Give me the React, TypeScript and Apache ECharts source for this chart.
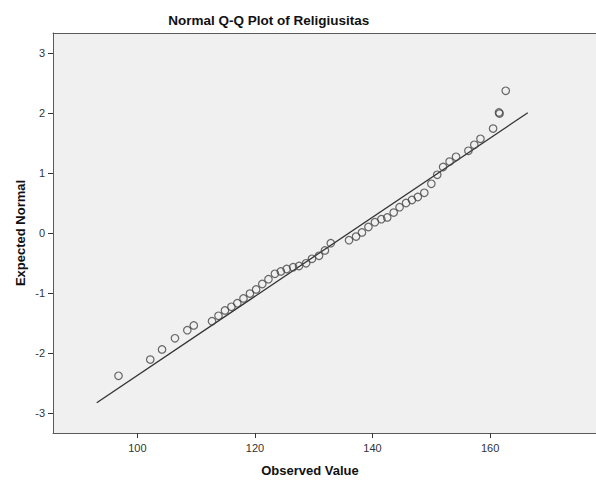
import React, { useEffect, useRef } from "react";
import * as echarts from "echarts";

const titleText = "Normal Q-Q Plot of Religiusitas";
const xAxisTitle = "Observed Value";
const yAxisTitle = "Expected Normal";

const xTicks = [100, 120, 140, 160];
const yTicks = [-3, -2, -1, 0, 1, 2, 3];

const observed = [
  96.8, 102.2, 104.2, 106.4, 108.5, 109.6, 112.7, 113.8, 114.9, 116.0,
  117.0, 118.05, 119.15, 120.2, 121.25, 122.3, 123.4, 124.4, 125.4, 126.5,
  127.5, 128.7, 129.7, 130.9, 131.9, 132.9, 136.0, 137.2, 138.2, 139.3,
  140.4, 141.5, 142.5, 143.6, 144.6, 145.7, 146.7, 147.7, 148.8, 150.0,
  151.0, 152.0, 153.1, 154.2, 156.3, 157.3, 158.35, 160.5, 161.5, 161.6,
  162.65,
];
const expected = [
  -2.38, -2.11, -1.94, -1.755, -1.62, -1.54, -1.47, -1.38, -1.29, -1.23,
  -1.17, -1.09, -1.01, -0.94, -0.85, -0.77, -0.68, -0.64, -0.6, -0.57,
  -0.55, -0.505, -0.43, -0.38, -0.29, -0.17, -0.12, -0.06, 0.01, 0.1,
  0.18, 0.23, 0.26, 0.34, 0.43, 0.5, 0.55, 0.6, 0.67, 0.82,
  0.97, 1.1, 1.19, 1.27, 1.37, 1.47, 1.57, 1.74, 2.01, 1.99,
  2.37,
];

const lineX = [93.1, 166.4];
const lineY = [-2.83, 2.005];

export default function App() {
  const ref = useRef<HTMLDivElement>(null);
  useEffect(() => {
    document.body.style.margin = "0";
    if (!ref.current) return;
    const chart = echarts.init(ref.current, null, { renderer: "svg" });
    const font = "'Liberation Sans', Arial, sans-serif";
    const axisLineStyle = { color: "#5a5a5a", width: 1 };
    chart.setOption({
      animation: false,
      backgroundColor: "#ffffff",
      grid: {
        left: 53,
        top: 33,
        right: 0,
        height: 400,
        show: true,
        backgroundColor: "#f0f0f0",
        borderWidth: 0,
      },
      xAxis: [
        {
          type: "value",
          min: 85.66,
          max: 178.0,
          axisLine: { show: true, onZero: false, lineStyle: axisLineStyle },
          axisTick: {
            show: true,
            customValues: xTicks,
            length: 5,
            inside: false,
            lineStyle: { color: "#333" },
          },
          axisLabel: {
            customValues: xTicks,
            margin: 9,
            fontSize: 11,
            fontFamily: font,
            color: "#333",
          },
          splitLine: { show: false },
        },
        {
          type: "value",
          position: "top",
          min: 85.66,
          max: 178.0,
          axisLine: { show: true, onZero: false, lineStyle: axisLineStyle },
          axisTick: { show: false },
          axisLabel: { show: false },
          splitLine: { show: false },
        },
      ],
      yAxis: {
        type: "value",
        min: -3.3333,
        max: 3.3333,
        axisLine: { show: true, onZero: false, lineStyle: axisLineStyle },
        axisTick: {
          show: true,
          customValues: yTicks,
          length: 5,
          inside: false,
          lineStyle: { color: "#333" },
        },
        axisLabel: {
          customValues: yTicks,
          margin: 8,
          fontSize: 11,
          fontFamily: font,
          color: "#333",
        },
        splitLine: { show: false },
      },
      series: [
        {
          type: "line",
          data: lineX.map((x, i) => [x, lineY[i]]),
          symbol: "none",
          lineStyle: { color: "#333", width: 1.3 },
          z: 2,
        },
        {
          type: "scatter",
          data: observed.map((x, i) => [x, expected[i]]),
          symbol: "circle",
          symbolSize: 7.5,
          itemStyle: {
            color: "rgba(0,0,0,0)",
            borderColor: "#444",
            borderWidth: 1.2,
          },
          z: 3,
        },
      ],
      graphic: [
        {
          type: "text",
          x: 268.7,
          y: 20.5,
          style: {
            text: titleText,
            fontSize: 13.5,
            fontWeight: "bold",
            fontFamily: font,
            fill: "#111",
            textAlign: "center",
            textVerticalAlign: "middle",
          },
        },
        {
          type: "text",
          x: 310,
          y: 470,
          style: {
            text: xAxisTitle,
            fontSize: 13,
            fontWeight: "bold",
            fontFamily: font,
            fill: "#111",
            textAlign: "center",
            textVerticalAlign: "middle",
          },
        },
        {
          type: "text",
          x: 20,
          y: 233,
          rotation: Math.PI / 2,
          style: {
            text: yAxisTitle,
            fontSize: 13,
            fontWeight: "bold",
            fontFamily: font,
            fill: "#111",
            textAlign: "center",
            textVerticalAlign: "middle",
          },
        },
      ],
    });
    return () => chart.dispose();
  }, []);
  return <div ref={ref} style={{ width: 596, height: 481 }} />;
}
